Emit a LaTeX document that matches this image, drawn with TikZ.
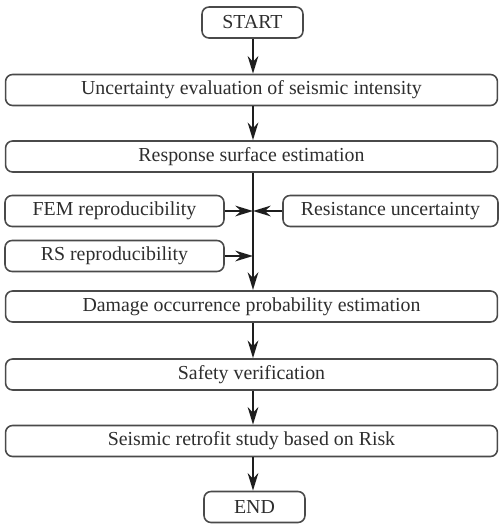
\documentclass[tikz,border=0pt]{standalone}
\usepackage{fontspec}
\setmainfont{Liberation Serif}
\usepackage{xcolor}
\usetikzlibrary{arrows.meta,positioning,calc}
\definecolor{boxline}{HTML}{4A4A4A}
\definecolor{flowtext}{HTML}{2E2E2E}
\definecolor{flowline}{HTML}{1E1E1E}

\tikzset{
  stepbox/.style={draw=boxline,line width=0.9pt,rounded corners=4pt,
    inner sep=0pt,minimum height=0.62cm,text=flowtext,font=\fontsize{11.3}{13}\selectfont},
  widebox/.style={stepbox,minimum width=9.84cm},
  sidebox/.style={stepbox,minimum width=4.34cm},
  endbox/.style={stepbox,minimum width=2.02cm},
  flow/.style={-{Stealth[length=10pt,width=6pt]},line width=1.7pt,draw=flowline},
}

\begin{document}
\begin{tikzpicture}[x=0.02cm,y=-0.02cm]
  \useasboundingbox (0,0) rectangle (499,525);
  % main column
  \node[endbox]  (start)  at (252.5,22.5) {START};
  \node[widebox] (intens) at (251.5,90)   {Uncertainty evaluation of seismic intensity};
  \node[widebox] (rsest)  at (251.5,156.5) {Response surface estimation};
  \node[widebox] (damage) at (251.5,306.5) {Damage occurrence probability estimation};
  \node[widebox] (safety) at (251.5,374.5) {Safety verification};
  \node[widebox] (retro)  at (251.5,441)   {Seismic retrofit study based on Risk};
  \node[endbox]  (finish) at (254.5,507)   {END};
  % side inputs
  \node[sidebox,minimum width=4.38cm] (fem)    at (114.5,211) {FEM reproducibility};
  \node[sidebox,minimum width=4.38cm] (rsrep)  at (114.5,256) {RS reproducibility};
  \node[sidebox,minimum width=4.30cm] (resist) at (390.5,211) {Resistance uncertainty};
  % spine and joins
  \coordinate (top)  at (253,173);
  \coordinate (bot)  at (253,290);
  \coordinate (j1) at (top |- fem);
  \coordinate (j2) at (top |- rsrep);
  % connectors
  \draw[flow] (start.south -| top) -- (intens.north -| top);
  \draw[flow] (intens.south -| top) -- (rsest.north -| top);
  \draw[flow] (top) -- (bot);
  \draw[flow] (fem.east) -- (j1);
  \draw[flow] (resist.west) -- (j1);
  \draw[flow] (rsrep.east) -- (j2);
  \draw[flow] (damage.south -| top) -- (safety.north -| top);
  \draw[flow] (safety.south -| top) -- (retro.north -| top);
  \draw[flow] (retro.south -| top) -- (finish.north -| top);
\end{tikzpicture}
\end{document}
